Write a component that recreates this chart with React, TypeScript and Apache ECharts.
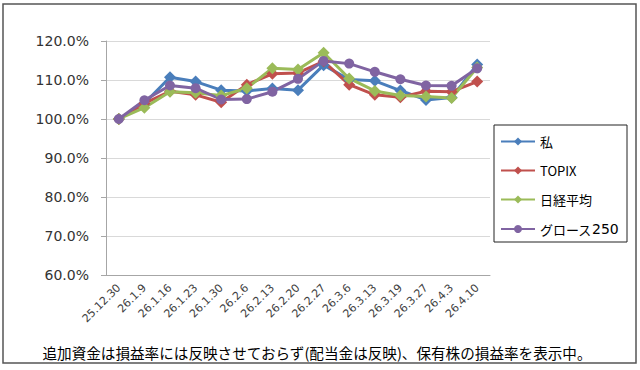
import React, { useEffect, useRef } from "react";
import * as echarts from "echarts";

const categories = ["25.12.30", "26.1.9", "26.1.16", "26.1.23", "26.1.30", "26.2.6", "26.2.13", "26.2.20", "26.2.27", "26.3.6", "26.3.13", "26.3.19", "26.3.27", "26.4.3", "26.4.10"];
const seriesNames = ["私", "TOPIX", "日経平均", "グロース250"];
const watashi = [100, 104.0, 110.7, 109.6, 107.4, 107.2, 107.8, 107.4, 113.8, 110.1, 109.8, 107.3, 104.9, 105.5, 114.0];
const topix = [100, 104.0, 107.1, 106.2, 104.3, 108.8, 111.6, 111.8, 114.8, 108.8, 106.2, 105.6, 107.1, 107.0, 109.6];
const nikkei = [100, 102.9, 107.0, 106.7, 106.0, 107.9, 113.0, 112.7, 117.0, 110.4, 107.2, 106.0, 105.8, 105.4, 113.2];
const growth = [100, 104.8, 108.6, 107.9, 105.0, 105.1, 107.0, 110.3, 114.9, 114.2, 112.1, 110.2, 108.6, 108.5, 113.0];
const footnote = "追加資金は損益率には反映させておらず(配当金は反映)、保有株の損益率を表示中。";

const colors = ["#4A7EBB", "#C0504D", "#9BBB59", "#8064A2"];
const symbols = ["diamond", "diamond", "diamond", "circle"];
const FONT = "'Noto Sans CJK JP', 'Noto Sans', sans-serif";
const NUMFONT = "'DejaVu Sans', sans-serif";

export default function App() {
  const ref = useRef<HTMLDivElement>(null);
  useEffect(() => {
    if (!ref.current) return;
    const chart = echarts.init(ref.current, undefined, { renderer: "svg" });
    const data = [watashi, topix, nikkei, growth];
    chart.setOption({
      animation: false,
      backgroundColor: "#ffffff",
      textStyle: { fontFamily: FONT },
      grid: { left: 106, right: 150, top: 41, bottom: 95, containLabel: false },
      xAxis: {
        type: "category",
        data: categories,
        boundaryGap: true,
        axisLine: { show: true, lineStyle: { color: "#A6A6A6", width: 1 } },
        axisTick: { show: false },
        axisLabel: { rotate: 45, interval: 0, margin: 11, fontSize: 11, color: "#404040", fontFamily: NUMFONT },
      },
      yAxis: {
        type: "value",
        min: 60,
        max: 120,
        interval: 10,
        axisLine: { show: true, lineStyle: { color: "#A6A6A6", width: 1 } },
        axisTick: { show: true, length: 5, inside: false, lineStyle: { color: "#A6A6A6" } },
        splitLine: { show: true, lineStyle: { color: "#D9D9D9", width: 1 } },
        axisLabel: {
          margin: 17,
          fontSize: 14,
          color: "#333333",
          fontFamily: NUMFONT,
          formatter: (v: number) => v.toFixed(1) + "%",
        },
      },
      legend: {
        orient: "vertical",
        left: 500,
        top: 135,
        padding: 0,
        itemWidth: 34,
        itemHeight: 10,
        itemGap: 16,
        data: seriesNames,
        formatter: (name: string) => name.replace(/(\d+)/g, "{d|$1}"),
        textStyle: {
          fontSize: 13,
          color: "#000",
          fontFamily: FONT,
          rich: { d: { fontSize: 14, fontFamily: NUMFONT, color: "#000" } },
        },
      },
      series: seriesNames.map((name, i) => ({
        name,
        type: "line",
        data: data[i],
        symbol: symbols[i],
        symbolSize: i === 3 ? 10 : 12,
        lineStyle: { width: 3, color: colors[i] },
        itemStyle: { color: colors[i] },
        emphasis: { disabled: true },
      })),
      graphic: [
        {
          type: "rect",
          shape: { x: 3, y: 4, width: 633, height: 359 },
          style: { fill: "none", stroke: "#555555", lineWidth: 1.5 },
          silent: true,
        },
        {
          type: "rect",
          shape: { x: 494, y: 125, width: 133, height: 117 },
          style: { fill: "none", stroke: "#222222", lineWidth: 1 },
          silent: true,
        },
        {
          type: "text",
          x: 317,
          y: 352,
          style: {
            text: footnote,
            fontSize: 14.6,
            fill: "#000000",
            fontFamily: FONT,
            align: "center",
            verticalAlign: "middle",
          },
          silent: true,
        },
      ],
    });
    return () => chart.dispose();
  }, []);
  return (
    <div
      ref={ref}
      style={{ position: "fixed", left: 0, top: 0, width: 640, height: 370, background: "#fff" }}
    />
  );
}
